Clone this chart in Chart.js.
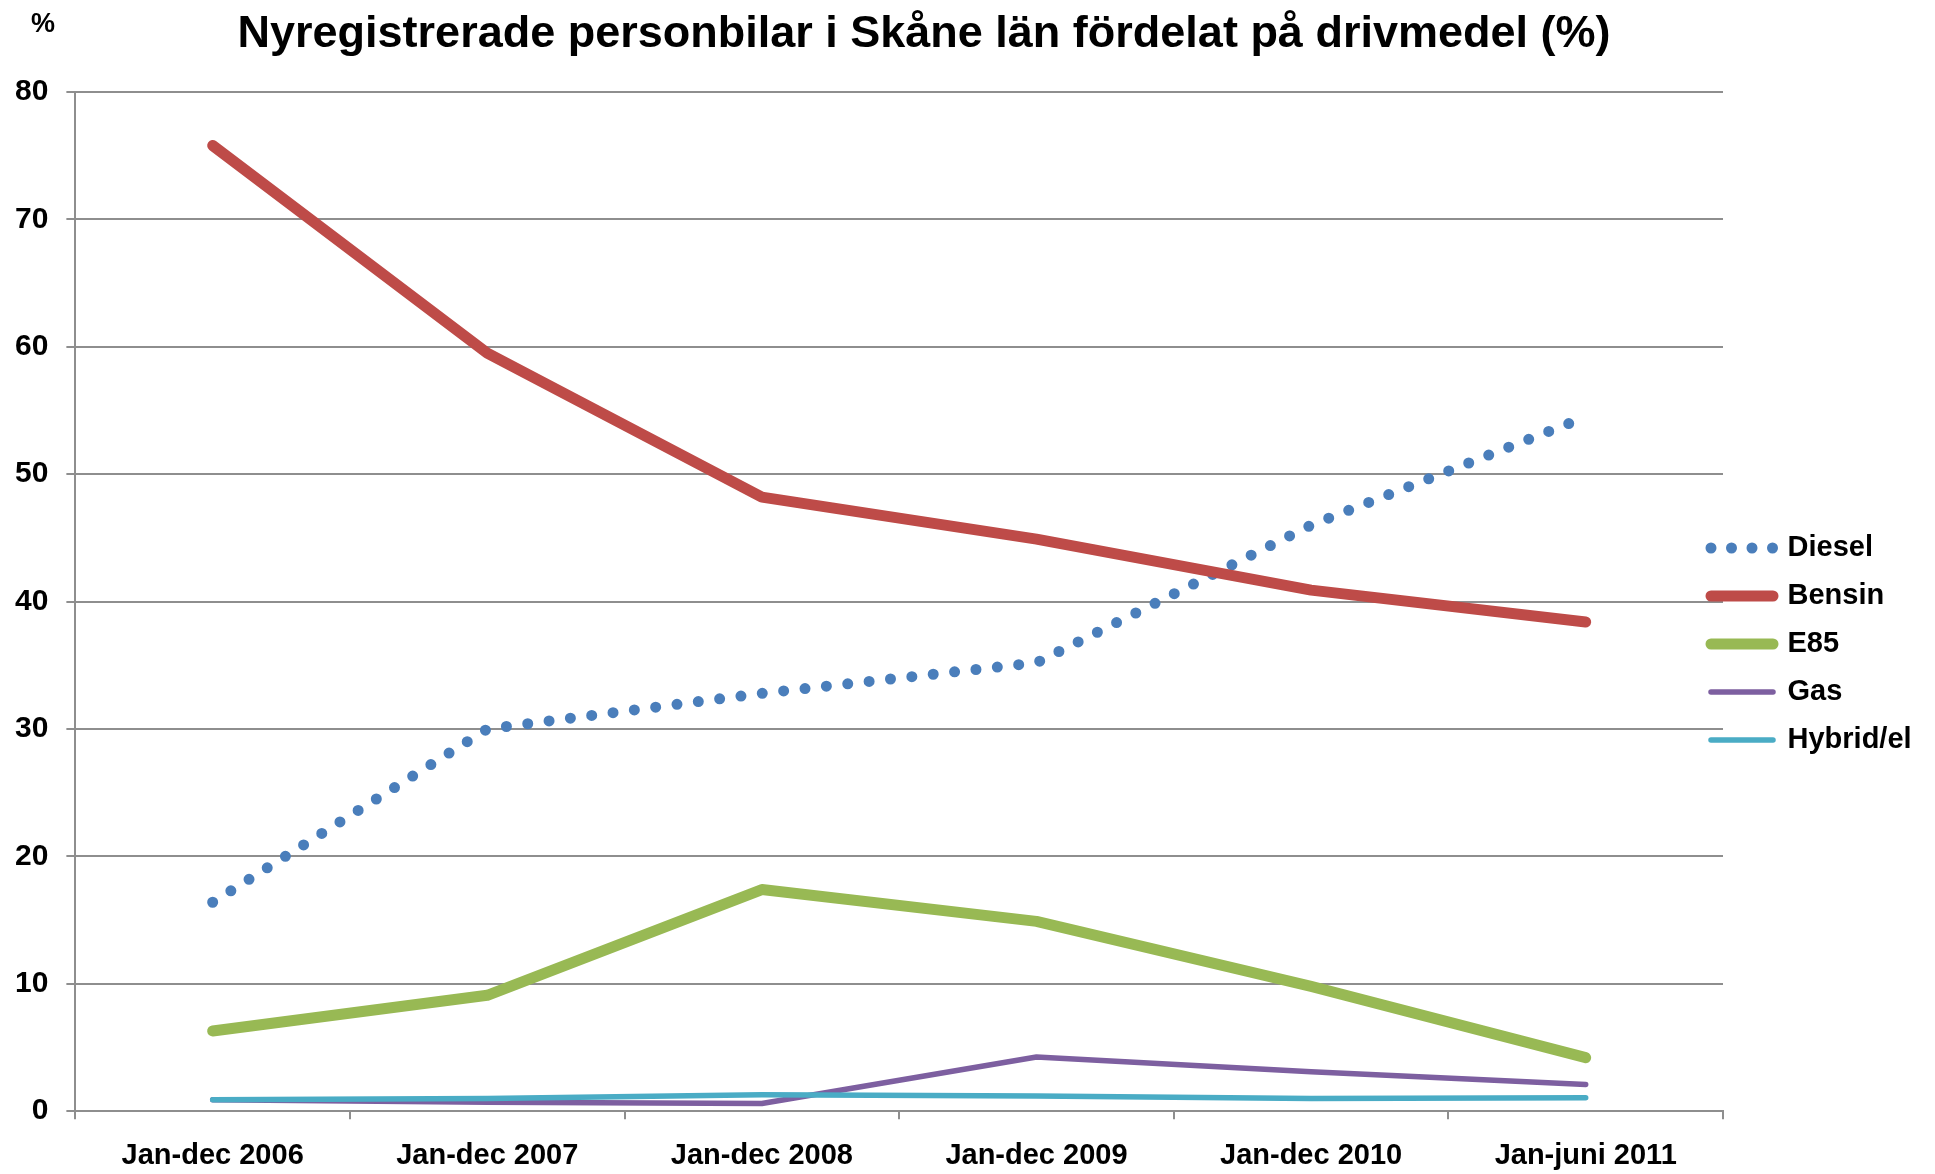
<!DOCTYPE html>
<html>
<head>
<meta charset="utf-8">
<script src="https://cdn.jsdelivr.net/npm/chart.js@4"></script>
<style>
  body { margin: 0; background: #fff; }
  #wrap { width: 1935px; height: 1174px; }
</style>
</head>
<body>
<div id="wrap"><canvas id="fuelChart"></canvas></div>
<script>
// data
const periods = ['Jan-dec 2006', 'Jan-dec 2007', 'Jan-dec 2008', 'Jan-dec 2009', 'Jan-dec 2010', 'Jan-juni 2011'];
const diesel = [16.4, 30.0, 32.8, 35.2, 46.0, 54.5];
const bensin = [75.8, 59.5, 48.2, 44.9, 40.9, 38.4];
const e85 = [6.3, 9.1, 17.4, 14.9, 9.8, 4.2];
const gas = [0.9, 0.7, 0.6, 4.25, 3.1, 2.1];
const hybrid = [0.9, 1.0, 1.3, 1.2, 1.0, 1.05];

const FONT = '"Liberation Sans", Arial, sans-serif';
const GRID = '#8e8e8e';

// nudges the legend over the plot edge and the title off-centre, like the original
const layoutTweaks = {
    id: 'layoutTweaks',
    afterLayout(chart) {
        const lg = chart.legend;
        lg.left -= 31;
        lg.top += 48; lg.bottom += 48;
        chart.titleBlock.left -= 42; chart.titleBlock.right -= 42;
    },
    afterDraw(chart) {
        const ctx = chart.ctx;
        ctx.save();
        ctx.font = 'bold 27px ' + FONT;
        ctx.fillStyle = '#000';
        ctx.textBaseline = 'alphabetic';
        ctx.fillText('%', 31, 32);
        ctx.restore();
    }
};

const line = (label, data, color, width, extra) => Object.assign({
    label, data,
    borderColor: color,
    backgroundColor: color,
    borderWidth: width,
    borderCapStyle: 'round',
    borderJoinStyle: 'round',
    pointRadius: 0,
    tension: 0,
    clip: false
}, extra);

const datasets = [
    line('Diesel', diesel, '#4a7ebb', 11, { borderDash: [0, 21.5], order: 4 }),
    line('Bensin', bensin, '#be4b48', 11, { order: 3 }),
    line('E85', e85, '#98b954', 11, { order: 2 }),
    line('Gas', gas, '#7d5fa0', 5.5, { order: 1 }),
    line('Hybrid/el', hybrid, '#4aacc5', 5.5, { order: 0 })
];

new Chart(document.getElementById('fuelChart'), {
    type: 'line',
    data: { labels: periods, datasets },
    plugins: [layoutTweaks],
    options: {
        responsive: true,
        maintainAspectRatio: false,
        animation: false,
        layout: { padding: { left: -3, right: 0, top: 0, bottom: -18 } },
        plugins: {
            title: {
                display: true,
                text: 'Nyregistrerade personbilar i Skåne län fördelat på drivmedel (%)',
                color: '#000',
                font: { family: FONT, size: 45, weight: 'bold' },
                padding: { top: 8, bottom: 30 }
            },
            legend: {
                position: 'right',
                maxWidth: 212,
                labels: {
                    usePointStyle: true,
                    pointStyleWidth: 62,
                    padding: 19,
                    color: '#000',
                    font: { family: FONT, size: 29, weight: 'bold' },
                    generateLabels: (chart) => chart.data.datasets.map((ds, i) => ({
                        text: ds.label,
                        fillStyle: ds.borderColor,
                        strokeStyle: ds.borderColor,
                        fontColor: '#000',
                        lineWidth: ds.borderWidth,
                        lineDash: ds.borderDash ? [0, 20.5] : [],
                        lineCap: 'round',
                        pointStyle: 'line',
                        rotation: 0,
                        hidden: false,
                        datasetIndex: i
                    }))
                }
            },
            tooltip: { enabled: false }
        },
        scales: {
            x: {
                offset: true,
                grid: { offset: true, drawOnChartArea: false, color: GRID, tickLength: 8, lineWidth: 2 },
                border: { color: GRID, width: 2 },
                ticks: { color: '#000', padding: 19, font: { family: FONT, size: 29, weight: 'bold' }, maxRotation: 0 }
            },
            y: {
                min: 0,
                max: 80,
                ticks: { stepSize: 10, color: '#000', padding: 18, font: { family: FONT, size: 30, weight: 'bold' } },
                grid: { color: GRID, lineWidth: 2, tickLength: 9 },
                border: { color: GRID, width: 2 }
            }
        }
    }
});
</script>
</body>
</html>
